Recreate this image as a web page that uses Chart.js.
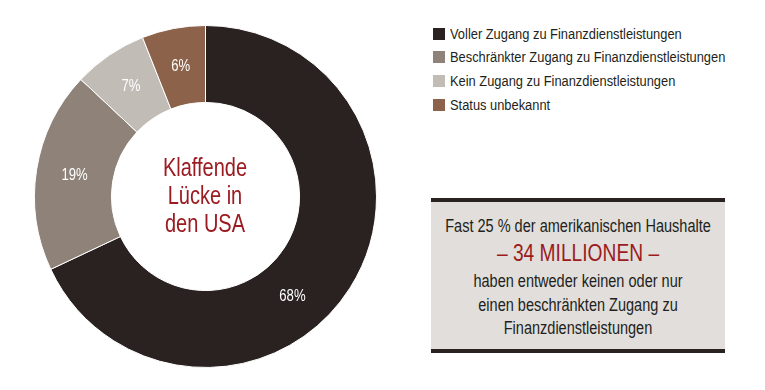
<!DOCTYPE html>
<html>
<head>
<meta charset="utf-8">
<script src="https://cdn.jsdelivr.net/npm/chart.js@4"></script>
<style>
  body { margin: 0; background: #fff; width: 765px; height: 390px; overflow: hidden; position: relative;
         font-family: "Liberation Sans", Arial, sans-serif; }
  #chartWrap { position: absolute; left: 34px; top: 25px; width: 343px; height: 343px; }
  .line { position: absolute; white-space: nowrap; transform: scaleX(0.8); }
  .ctr { text-align: center; transform-origin: center; }
  .lft { transform-origin: left center; }
  .red { color: #9b1b20; }
  #center .line { left: 55px; width: 300px; font-size: 25px; line-height: 28px; }
  #legend .line { left: 450px; font-size: 15.5px; line-height: 20px; color: #231f20; transform: scaleX(0.83); }
  .sw { position: absolute; left: 433px; width: 12px; height: 12px; }
  #box { position: absolute; left: 431px; top: 198px; width: 294px; height: 147px;
         background: #e1dedb; border-top: 4px solid #2a2220; border-bottom: 4px solid #2a2220; }
  #box .line { left: -53px; width: 400px; font-size: 17.5px; line-height: 22px; color: #231f20; transform: scaleX(0.83); }
  #box .big { font-size: 24px; line-height: 30px; color: #9b1b20; transform: scaleX(0.8); }
</style>
</head>
<body>
<div id="chartWrap"><canvas id="donut"></canvas></div>
<div id="center">
  <div class="line ctr red" style="top:153px">Klaffende</div>
  <div class="line ctr red" style="top:181px">Lücke in</div>
  <div class="line ctr red" style="top:209px">den USA</div>
</div>
<div id="legend"></div>
<div id="box">
  <div class="line ctr" style="top:13px">Fast 25 % der amerikanischen Haushalte</div>
  <div class="line ctr big" style="top:36px">– 34 MILLIONEN –</div>
  <div class="line ctr" style="top:68px">haben entweder keinen oder nur</div>
  <div class="line ctr" style="top:92px">einen beschränkten Zugang zu</div>
  <div class="line ctr" style="top:115px">Finanzdienstleistungen</div>
</div>
<script>
const categories = ['Voller Zugang zu Finanzdienstleistungen', 'Beschränkter Zugang zu Finanzdienstleistungen', 'Kein Zugang zu Finanzdienstleistungen', 'Status unbekannt'];
const shares = [68, 19, 7, 6];
const colors = ['#2a2220', '#8e8279', '#c1bcb6', '#8c624b'];

// legend on the right
const legend = document.getElementById('legend');
categories.forEach(function(name, i) {
    const y = 33.5 + i * 23.7;
    const sw = document.createElement('div');
    sw.className = 'sw';
    sw.style.top = (y - 6) + 'px';
    sw.style.background = colors[i];
    legend.appendChild(sw);
    const t = document.createElement('div');
    t.className = 'line lft';
    t.style.top = (y - 10) + 'px';
    t.textContent = name;
    legend.appendChild(t);
});

// white percentage labels on the ring
const sliceLabels = {
    id: 'sliceLabels',
    afterDatasetsDraw: function(chart) {
        const ctx = chart.ctx;
        const meta = chart.getDatasetMeta(0);
        meta.data.forEach(function(arc, i) {
            let pos = arc.tooltipPosition();
            if (i === 0) {
                // biggest slice label sits lower right, not at the centroid
                const a = 49 * Math.PI / 180;
                const r = (arc.innerRadius + arc.outerRadius) / 2;
                pos = { x: arc.x + r * Math.cos(a), y: arc.y + r * Math.sin(a) };
            }
            ctx.save();
            ctx.translate(pos.x, pos.y);
            ctx.scale(0.82, 1);
            ctx.fillStyle = '#fff';
            ctx.font = '16px "Liberation Sans", Arial, sans-serif';
            ctx.textAlign = 'center';
            ctx.textBaseline = 'middle';
            ctx.fillText(shares[i] + '%', 0, 0);
            ctx.restore();
        });
    }
};

new Chart(document.getElementById('donut'), {
    type: 'doughnut',
    data: {
        labels: categories,
        datasets: [{
            data: shares,
            backgroundColor: colors,
            borderColor: '#fff',
            borderWidth: 1
        }]
    },
    options: {
        responsive: true,
        maintainAspectRatio: false,
        animation: false,
        cutout: '55%',
        layout: { padding: 0 },
        plugins: {
            legend: { display: false },
            tooltip: { enabled: false }
        }
    },
    plugins: [sliceLabels]
});
</script>
</body>
</html>
